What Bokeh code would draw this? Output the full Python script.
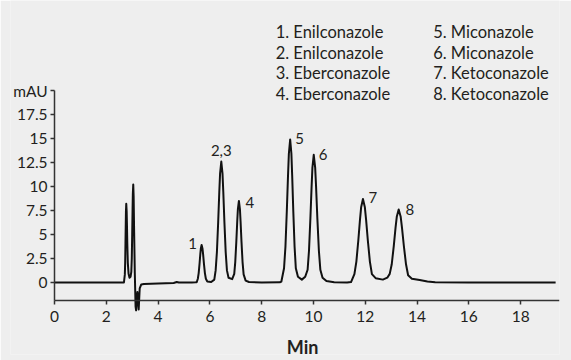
from bokeh.plotting import figure
from bokeh.models import FixedTicker, Label, ColumnDataSource
from bokeh.core.properties import value
from bokeh.embed import file_html
from bokeh.resources import INLINE

# ---- data ----
time_min = [0.0, 1.0, 2.0, 2.68,
            2.715, 2.728, 2.74, 2.751, 2.758, 2.77, 2.786, 2.796, 2.81, 2.83, 2.86, 2.895,
            2.935, 2.965, 2.984, 3.0, 3.014, 3.024, 3.04, 3.055, 3.07, 3.10, 3.13, 3.15,
            3.20, 3.25, 3.29, 3.35, 3.45, 4.0, 4.6, 4.72, 4.8, 5.3, 5.45,
            5.49, 5.534, 5.567, 5.60, 5.629, 5.649, 5.68, 5.715, 5.738, 5.77, 5.807, 5.844, 5.90, 6.05,
            6.17, 6.222, 6.27, 6.32, 6.363, 6.393, 6.44, 6.487, 6.517, 6.56, 6.61, 6.658, 6.72, 6.86,
            6.94, 6.979, 7.02, 7.056, 7.081, 7.12, 7.159, 7.184, 7.22, 7.261, 7.302, 7.38, 7.51, 8.0, 8.7,
            8.76, 8.863, 8.917, 8.97, 9.017, 9.049, 9.10, 9.147, 9.177, 9.22, 9.27, 9.318, 9.40, 9.55,
            9.68, 9.773, 9.827, 9.88, 9.927, 9.959, 10.01, 10.065, 10.10, 10.15, 10.208, 10.265, 10.35, 10.5, 10.8, 11.3,
            11.45, 11.58, 11.656, 11.73, 11.795, 11.84, 11.91, 11.984, 12.032, 12.10, 12.178, 12.256, 12.4, 12.68,
            12.85, 12.944, 13.022, 13.10, 13.168, 13.216, 13.29, 13.368, 13.418, 13.49, 13.573, 13.654, 13.8, 14.1, 14.4, 14.7,
            16.0, 17.5, 19.35]
absorbance_mau = [0.0, 0.0, 0.0, 0.0,
                  0.82, 2.05, 4.1, 6.15, 7.38, 8.2, 7.38, 6.15, 4.1, 2.05, 0.9, 0.5,
                  0.6, 1.1, 2.55, 5.1, 7.65, 9.18, 10.2, 9.0, 6.0, 1.0, -2.5, -2.9,
                  -1.0, -2.8, -0.6, -0.2, -0.15, -0.1, -0.05, 0.05, 0.0, 0.0, 0.02,
                  0.03, 0.39, 0.98, 1.95, 2.93, 3.51, 3.9, 3.51, 2.93, 1.95, 0.98, 0.39, 0.1, 0.05,
                  0.3, 1.26, 3.15, 6.3, 9.45, 11.34, 12.6, 11.34, 9.45, 6.3, 3.15, 1.26, 0.5, 0.35,
                  0.9, 2.13, 4.25, 6.38, 7.65, 8.5, 7.65, 6.38, 4.25, 2.13, 0.85, 0.2, 0.05, 0.0, 0.02,
                  0.1, 1.49, 3.73, 7.45, 11.18, 13.41, 14.9, 13.41, 11.18, 7.45, 3.73, 1.49, 0.6, 0.3,
                  0.6, 1.33, 3.33, 6.65, 9.98, 11.97, 13.3, 11.97, 9.98, 6.65, 3.33, 1.33, 0.5, 0.15, 0.03, 0.0,
                  0.05, 0.87, 2.18, 4.35, 6.53, 7.83, 8.7, 7.83, 6.53, 4.35, 2.18, 0.87, 0.45, 0.3,
                  0.5, 0.9, 1.9, 3.8, 5.7, 6.84, 7.6, 6.84, 5.7, 3.8, 1.9, 0.76, 0.4, 0.25, 0.1, 0.03,
                  0.0, 0.0, 0.0]

peak_labels = ["1", "2,3", "4", "5", "6", "7", "8"]
legend_col1 = ["1. Enilconazole", "2. Enilconazole", "3. Eberconazole", "4. Eberconazole"]
legend_col2 = ["5. Miconazole", "6. Miconazole", "7. Ketoconazole", "8. Ketoconazole"]

x_ticks = [0, 2, 4, 6, 8, 10, 12, 14, 16, 18]
x_tick_labels = ["0", "2", "4", "6", "8", "10", "12", "14", "16", "18"]
y_ticks = [0, 2.5, 5, 7.5, 10, 12.5, 15, 17.5, 20]
y_tick_labels = ["0", "2.5", "5", "7.5", "10", "12.5", "15", "17.5", "mAU"]
x_title = "Min"

# ---- layout (positions in data units) ----
peak_label_x = [5.33, 6.44, 7.54, 9.46, 10.37, 12.29, 13.72]
peak_label_y = [4.05, 13.7, 8.35, 15.0, 13.35, 8.85, 7.6]
legend_x = [8.54, 14.62]
legend_y = [26.1, 23.95, 21.8, 19.65]
AXIS_X, AXIS_Y = 0.0, -1.875
XLABEL_Y = -3.55
YLABEL_X = -0.27
XTITLE_X, XTITLE_Y = 9.58, -6.75

FONT = "Lato"
TXT = "#231f20"
AX = "#333333"
BG = "#eeeeee"

p = figure(width=571, height=360, x_range=(-1.7, 19.5), y_range=(-7.5, 29.375),
           min_border_left=10, min_border_right=12, min_border_top=0, min_border_bottom=6,
           output_backend="svg", toolbar_location=None,
           background_fill_color=BG, border_fill_color=BG, outline_line_color=None)
p.grid.visible = False

p.line(time_min, absorbance_mau, line_color="#111111", line_width=2, line_join="round")

src = ColumnDataSource(dict(x=peak_label_x, y=peak_label_y, t=peak_labels))
p.text(x="x", y="y", text="t", source=src, text_font=value(FONT), text_font_size="15px",
       text_color=TXT, text_align="center", text_baseline="middle")

# tick labels and axis title, drawn as text inside the frame
xsrc = ColumnDataSource(dict(x=x_ticks, y=[XLABEL_Y] * len(x_ticks), t=x_tick_labels))
p.text(x="x", y="y", text="t", source=xsrc, text_font=value(FONT), text_font_size="15.5px",
       text_color=TXT, text_align="center", text_baseline="middle")
ysrc = ColumnDataSource(dict(x=[YLABEL_X] * len(y_ticks), y=y_ticks, t=y_tick_labels))
p.text(x="x", y="y", text="t", source=ysrc, text_font=value(FONT), text_font_size="15.5px",
       text_color=TXT, text_align="right", text_baseline="middle")
p.text(x=[XTITLE_X], y=[XTITLE_Y], text=[x_title], text_font=value(FONT), text_font_size="18px",
       text_font_style="bold", text_color=TXT, text_align="center", text_baseline="middle")

for col, items in zip(legend_x, [legend_col1, legend_col2]):
    for yy, txt in zip(legend_y, items):
        p.add_layout(Label(x=col, y=yy, text=txt, text_font=FONT, text_font_size="16.5px",
                           text_color=TXT, text_align="left", text_baseline="middle"))

# axes: lines + outward ticks at fixed data locations (ticks as label-free minor ticks)
yax = p.yaxis[0]
yax.fixed_location = AXIS_X
yax.ticker = FixedTicker(ticks=[], minor_ticks=y_ticks)
yax.bounds = (AXIS_Y, 20)
yax.major_tick_line_color = None
yax.minor_tick_in = 0
yax.minor_tick_out = 4
yax.minor_tick_line_width = 1.5
yax.minor_tick_line_color = AX
yax.axis_line_width = 1.5
yax.axis_line_color = AX

xax = p.xaxis[0]
xax.fixed_location = AXIS_Y
xax.ticker = FixedTicker(ticks=[], minor_ticks=x_ticks)
xax.bounds = (0, 19.5)
xax.major_tick_line_color = None
xax.minor_tick_in = 0
xax.minor_tick_out = 4
xax.minor_tick_line_width = 1.5
xax.minor_tick_line_color = AX
xax.axis_line_width = 1.5
xax.axis_line_color = AX

open("out.html", "w").write(file_html(p, INLINE))
